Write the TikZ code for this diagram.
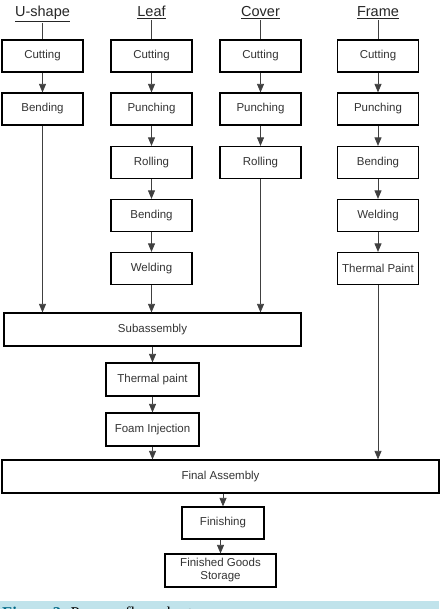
\documentclass[tikz,border=0pt]{standalone}
\usepackage{fontspec}
\setmainfont{Liberation Sans}
\newfontfamily\capfont{Liberation Serif}
\usetikzlibrary{arrows.meta}
\definecolor{capblue}{RGB}{192,227,235}
\definecolor{figteal}{RGB}{0,105,135}
\tikzset{
  stage/.style={draw=black, line width=1.2pt, text=black!80,
    inner sep=0pt, minimum width=81pt, minimum height=32pt,
    font=\fontsize{11.5}{13}\selectfont, align=center},
  head/.style={font=\fontsize{14.5}{16}\selectfont, text=black!85, inner sep=0.6pt},
  feed/.style={draw=black!75, line width=0.8pt},
  flow/.style={feed, -{Triangle[length=8.5pt,width=7pt]}},
}

\begin{document}
\begin{tikzpicture}[x=1pt,y=-1pt]
\useasboundingbox (0,0) rectangle (439,609);

% Headers
\node[head, anchor=base] (hu) at (42.5,17) {\underline{U-shape}};
\node[head, anchor=base] (hl) at (151.5,17) {\underline{Leaf}};
\node[head, anchor=base] (hc) at (260.5,17) {\underline{Cover}};
\node[head, anchor=base] (hf) at (378,17) {\underline{Frame}};

% U-shape
\node[stage] (ucut) at (42.5,56) {Cutting};
\node[stage] (ubend) at (42.5,109) {Bending};

% Leaf
\node[stage] (lcut) at (151.5,56) {Cutting};
\node[stage] (lpunch) at (151.5,109) {Punching};
\node[stage] (lroll) at (151.5,162.5) {Rolling};
\node[stage] (lbend) at (151.5,215.5) {Bending};
\node[stage] (lweld) at (151.5,268.5) {Welding};

% Cover
\node[stage] (ccut) at (260.5,56) {Cutting};
\node[stage] (cpunch) at (260.5,109) {Punching};
\node[stage] (croll) at (260.5,162.5) {Rolling};

% Frame
\node[stage] (fcut) at (378,56) {Cutting};
\node[stage] (fpunch) at (378,109) {Punching};
\node[stage] (fbend) at (378,162.5) {Bending};
\node[stage] (fweld) at (378,215.5) {Welding};
\node[stage] (fpaint) at (378,268.5) {Thermal Paint};

% Assembly line
\node[stage, minimum width=297pt, minimum height=33pt] (sub) at (152.5,329.5) {Subassembly};
\node[stage, minimum width=93pt, minimum height=33pt] (tpaint) at (152.5,379.5) {Thermal paint};
\node[stage, minimum width=93pt, minimum height=33pt] (foam) at (152.5,429.5) {Foam Injection};
\node[stage, minimum width=437pt, minimum height=33pt] (final) at (220.5,476.5) {Final Assembly};
\node[stage, minimum width=82pt] (finish) at (223,523) {Finishing};
\node[stage, minimum width=111pt, minimum height=33pt] (store) at (220.5,570.5) {Finished Goods\\Storage};

% header lines
\draw[feed] (hu) -- (ucut);
\draw[feed] (hl) -- (lcut);
\draw[feed] (hc) -- (ccut);
\draw[feed] (hf) -- (fcut);

% arrows
\draw[flow] (ucut) -- (ubend);
\draw[flow] (lcut) -- (lpunch);
\draw[flow] (lpunch) -- (lroll);
\draw[flow] (lroll) -- (lbend);
\draw[flow] (lbend) -- (lweld);
\draw[flow] (ccut) -- (cpunch);
\draw[flow] (cpunch) -- (croll);
\draw[flow] (fcut) -- (fpunch);
\draw[flow] (fpunch) -- (fbend);
\draw[flow] (fbend) -- (fweld);
\draw[flow] (fweld) -- (fpaint);

\draw[flow] (ubend) -- (ubend |- sub.north);
\draw[flow] (lweld) -- (sub.north -| lweld);
\draw[flow] (croll) -- (croll |- sub.north);
\draw[flow] (sub.south -| tpaint) -- (tpaint);
\draw[flow] (tpaint) -- (foam);
\draw[flow] (foam) -- (foam |- final.north);
\draw[flow] (fpaint) -- (fpaint |- final.north);
\draw[flow] (final.south -| finish) -- (finish);
\draw[flow] (finish.south -| store) -- (store);

% caption strip, cut off at the bottom
\begin{scope}
\clip (0,601) rectangle (439,609);
\fill[capblue] (0,601) rectangle (439,609);
\node[anchor=base west, inner sep=0pt, font=\capfont\fontsize{16.5}{18}\selectfont] (cap) at (2,618)
  {\textcolor{figteal}{\textbf{Figure 3.}} Process flow chart.};
\end{scope}

\end{tikzpicture}
\end{document}
